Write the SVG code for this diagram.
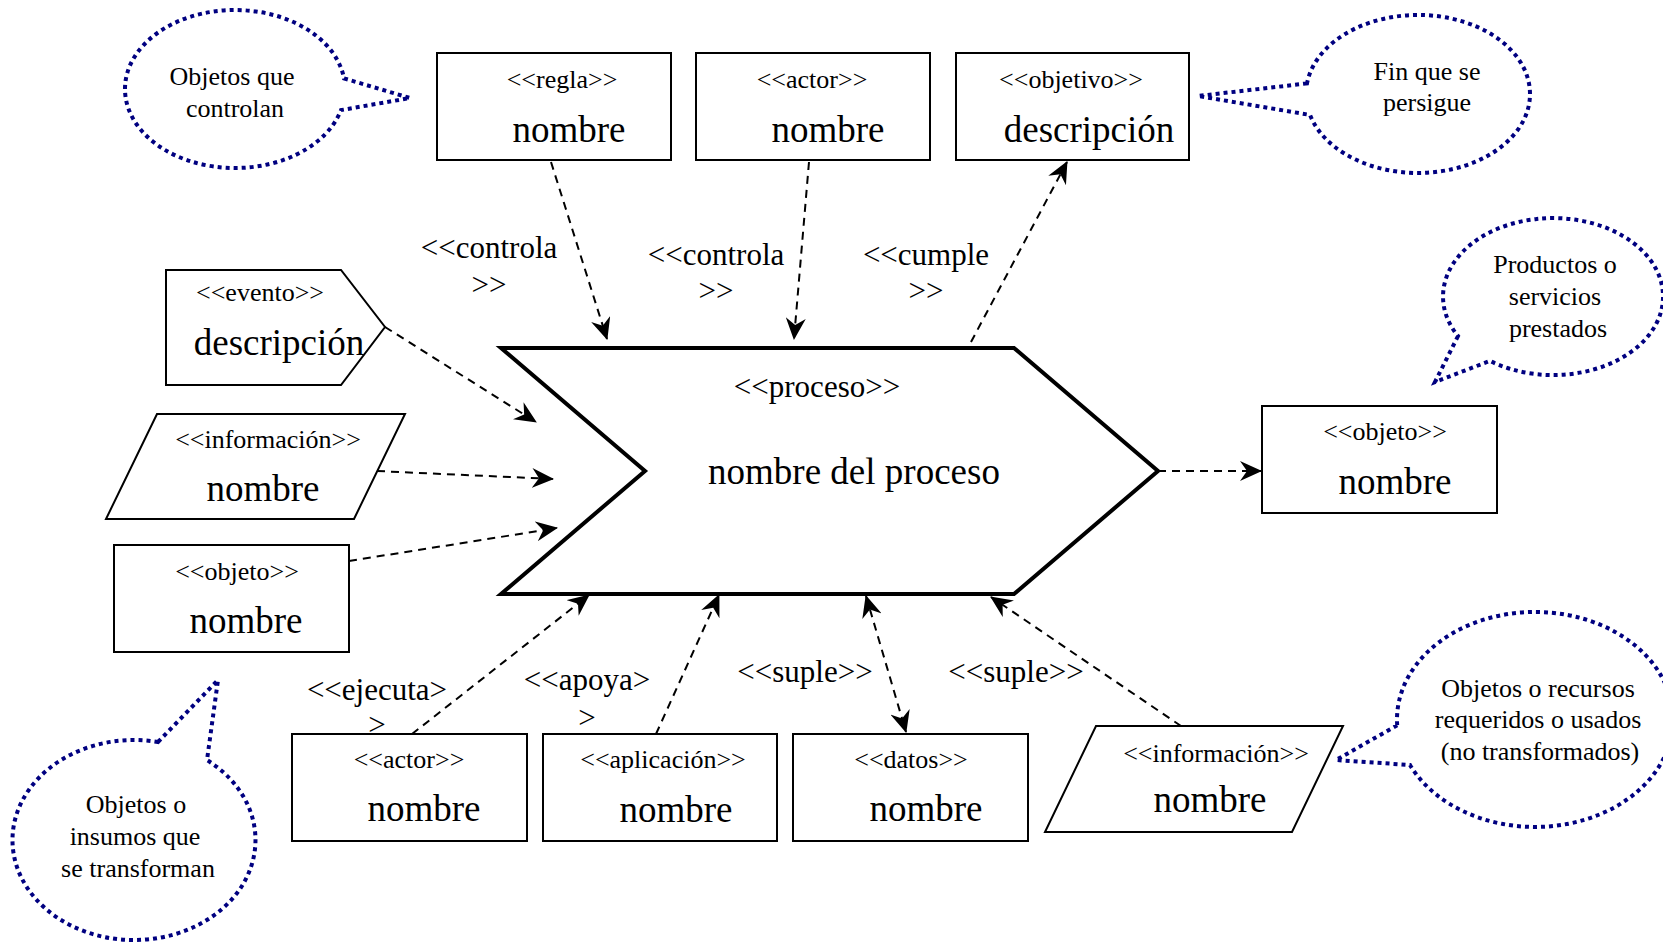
<svg xmlns="http://www.w3.org/2000/svg" width="1663" height="942" viewBox="0 0 1663 942">
<style>
text{font-family:"Liberation Serif","Times New Roman",serif;fill:#000;text-anchor:middle}
.st{font-size:26px}
.nm{font-size:37px}
.lb{font-size:31px}
.co{font-size:26px}
.box{fill:#fff;stroke:#000;stroke-width:2}
.proc{fill:#fff;stroke:#000;stroke-width:4;stroke-linejoin:miter}
.cn{fill:none;stroke:#000;stroke-width:2;stroke-dasharray:8 6;marker-end:url(#arr)}
.call{fill:none;stroke:#000080;stroke-width:4;stroke-dasharray:4 4}
</style>
<defs>
<marker id="arr" viewBox="0 0 22 20" refX="21" refY="10" markerWidth="22" markerHeight="20" markerUnits="userSpaceOnUse" orient="auto-start-reverse">
<path d="M0,0 L22,10 L0,20 L7,10 Z" fill="#000"/>
</marker>
</defs>
<rect width="1663" height="942" fill="#fff"/>

<g id="proceso">
<polygon class="proc" points="501,348 1014,348 1158,471 1014,594 501,594 645,471"/>
<text class="lb" x="817" y="397">&lt;&lt;proceso&gt;&gt;</text>
<text class="nm" x="854" y="484">nombre del proceso</text>
</g>

<g id="regla">
<rect class="box" x="437" y="53" width="234" height="107"/>
<text class="st" x="562" y="88">&lt;&lt;regla&gt;&gt;</text>
<text class="nm" x="569" y="142">nombre</text>
</g>
<g id="actor-top">
<rect class="box" x="696" y="53" width="234" height="107"/>
<text class="st" x="812" y="88">&lt;&lt;actor&gt;&gt;</text>
<text class="nm" x="828" y="142">nombre</text>
</g>
<g id="objetivo">
<rect class="box" x="956" y="53" width="233" height="107"/>
<text class="st" x="1071" y="88">&lt;&lt;objetivo&gt;&gt;</text>
<text class="nm" x="1089" y="142">descripción</text>
</g>

<g id="evento">
<polygon class="box" points="166,270 341,270 385,327 341,385 166,385"/>
<text class="st" x="260" y="301">&lt;&lt;evento&gt;&gt;</text>
<text class="nm" x="279" y="355">descripción</text>
</g>
<g id="informacion-izq">
<polygon class="box" points="157,414 405,414 354,519 106,519"/>
<text class="st" x="268" y="448">&lt;&lt;información&gt;&gt;</text>
<text class="nm" x="263" y="501">nombre</text>
</g>
<g id="objeto-izq">
<rect class="box" x="114" y="545" width="235" height="107"/>
<text class="st" x="237" y="580">&lt;&lt;objeto&gt;&gt;</text>
<text class="nm" x="246" y="633">nombre</text>
</g>
<g id="objeto-der">
<rect class="box" x="1262" y="406" width="235" height="107"/>
<text class="st" x="1385" y="440">&lt;&lt;objeto&gt;&gt;</text>
<text class="nm" x="1395" y="494">nombre</text>
</g>

<g id="actor-bottom">
<rect class="box" x="292" y="734" width="235" height="107"/>
<text class="st" x="409" y="768">&lt;&lt;actor&gt;&gt;</text>
<text class="nm" x="424" y="821">nombre</text>
</g>
<g id="aplicacion">
<rect class="box" x="543" y="734" width="234" height="107"/>
<text class="st" x="663" y="768">&lt;&lt;aplicación&gt;&gt;</text>
<text class="nm" x="676" y="822">nombre</text>
</g>
<g id="datos">
<rect class="box" x="793" y="734" width="235" height="107"/>
<text class="st" x="911" y="768">&lt;&lt;datos&gt;&gt;</text>
<text class="nm" x="926" y="821">nombre</text>
</g>
<g id="informacion-bottom">
<polygon class="box" points="1096,726 1343,726 1292,832 1045,832"/>
<text class="st" x="1216" y="762">&lt;&lt;información&gt;&gt;</text>
<text class="nm" x="1210" y="812">nombre</text>
</g>

<g id="connectors">
<path class="cn" d="M551,162 L607,339"/>
<path class="cn" d="M809,162 L794,339"/>
<path class="cn" d="M971,342 L1067,162"/>
<path class="cn" d="M385,327 L536,422"/>
<path class="cn" d="M377,471 L553,479"/>
<path class="cn" d="M349,561 L557,528"/>
<path class="cn" d="M1158,471 L1261,471"/>
<path class="cn" d="M412,734 L589,595"/>
<path class="cn" d="M656,734 L719,595"/>
<path class="cn" d="M866,596 L906,732" style="marker-start:url(#arr)"/>
<path class="cn" d="M1181,726 L991,597"/>
</g>

<g id="labels">
<text class="lb" x="489" y="258">&lt;&lt;controla</text>
<text class="lb" x="489" y="295">&gt;&gt;</text>
<text class="lb" x="716" y="265">&lt;&lt;controla</text>
<text class="lb" x="716" y="301">&gt;&gt;</text>
<text class="lb" x="926" y="265">&lt;&lt;cumple</text>
<text class="lb" x="926" y="301">&gt;&gt;</text>
<text class="lb" x="377" y="700">&lt;&lt;ejecuta&gt;</text>
<text class="lb" x="377" y="735">&gt;</text>
<text class="lb" x="587" y="690">&lt;&lt;apoya&gt;</text>
<text class="lb" x="587" y="728">&gt;</text>
<text class="lb" x="805" y="682">&lt;&lt;suple&gt;&gt;</text>
<text class="lb" x="1016" y="682">&lt;&lt;suple&gt;&gt;</text>
</g>

<g id="callout-controlan">
<path class="call" d="M344,78.4 L410,98 L341,110.1 A110,79 0 1 1 344,78.4 Z"/>
<text class="co" x="232" y="85">Objetos que</text>
<text class="co" x="235" y="117">controlan</text>
</g>
<g id="callout-fin">
<path class="call" d="M1307,83.4 L1198,96 L1310,114.9 A112,79 0 1 0 1307,83.4 Z"/>
<text class="co" x="1427" y="80">Fin que se</text>
<text class="co" x="1427" y="111">persigue</text>
</g>
<g id="callout-productos">
<path class="call" d="M1458,336.1 L1435,382 L1490,360.9 A110,78.5 0 1 0 1458,336.1 Z"/>
<text class="co" x="1555" y="273">Productos o</text>
<text class="co" x="1555" y="305">servicios</text>
<text class="co" x="1558" y="337">prestados</text>
</g>
<g id="callout-recursos">
<path class="call" d="M1397.2,725.3 L1336,760 L1410,765 A138,107.5 0 1 0 1397.2,725.3 Z"/>
<text class="co" x="1538" y="697">Objetos o recursos</text>
<text class="co" x="1538" y="728">requeridos o usados</text>
<text class="co" x="1540" y="760">(no transformados)</text>
</g>
<g id="callout-insumos">
<path class="call" d="M158,742 L218,680 L207,760.1 A121.5,100 0 1 1 158,742 Z"/>
<text class="co" x="136" y="813">Objetos o</text>
<text class="co" x="135" y="845">insumos que</text>
<text class="co" x="138" y="877">se transforman</text>
</g>
</svg>
